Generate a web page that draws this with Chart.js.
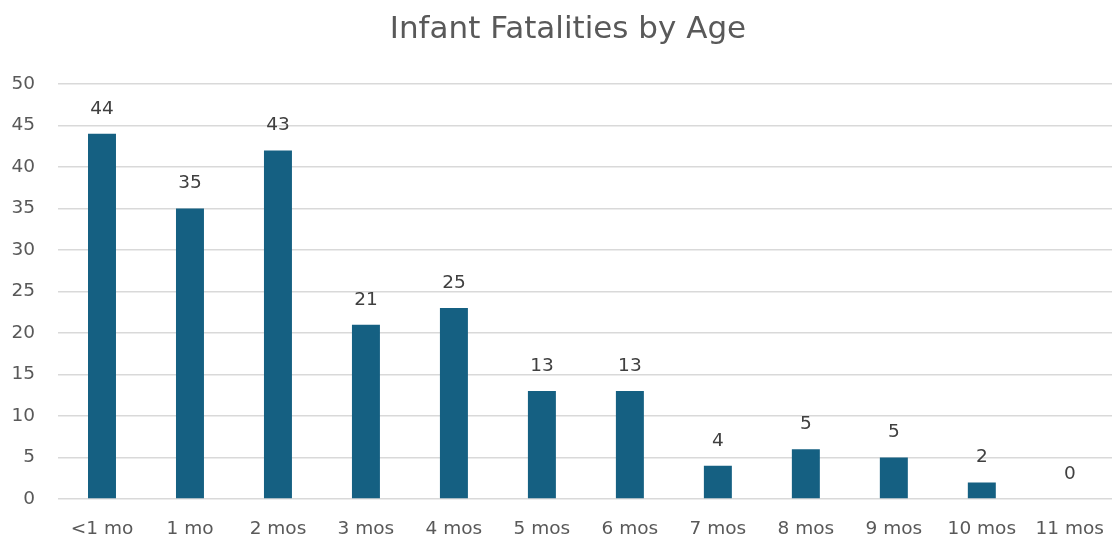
<!DOCTYPE html>
<html>
<head>
<meta charset="utf-8">
<script src="https://cdn.jsdelivr.net/npm/chart.js@4"></script>
<style>
html,body{margin:0;padding:0;background:#fff;overflow:hidden;}
#wrap{width:1112px;height:542px;position:relative;overflow:hidden;}
canvas{display:block;}
</style>
</head>
<body>
<div id="wrap"><canvas id="c" width="1115" height="542"></canvas></div>
<script>
const categories = ["<1 mo","1 mo","2 mos","3 mos","4 mos","5 mos","6 mos","7 mos","8 mos","9 mos","10 mos","11 mos"];
const barValues = [44,35,42,21,23,13,13,4,6,5,2,0];
const labelValues = [44,35,43,21,25,13,13,4,5,5,2,0];
const yTicks = [0,5,10,15,20,25,30,35,40,45,50];
const chartTitle = "Infant Fatalities by Age";

const FONT = "'DejaVu Sans', sans-serif";

const overlay = {
  id: 'overlay',
  afterDatasetsDraw(chart) {
    const ctx = chart.ctx;
    const meta = chart.getDatasetMeta(0);
    ctx.save();
    ctx.fillStyle = '#404040';
    ctx.font = "18.5px " + FONT;
    ctx.textAlign = 'center';
    ctx.textBaseline = 'middle';
    meta.data.forEach((bar, i) => {
      ctx.fillText(String(labelValues[i]), bar.x, bar.y - 25);
    });
    ctx.fillStyle = '#595959';
    ctx.font = "31px " + FONT;
    ctx.fillText(chartTitle, 568, 30);
    ctx.restore();
  }
};

new Chart(document.getElementById('c'), {
  type: 'bar',
  data: {
    labels: categories,
    datasets: [{
      data: barValues,
      backgroundColor: '#156082',
      borderWidth: 0,
      barPercentage: 0.636,
      categoryPercentage: 0.5
    }]
  },
  options: {
    responsive: false,
    animation: false,
    layout: { padding: { top: 84, right: 0, left: 0, bottom: 0 } },
    plugins: { legend: { display: false }, title: { display: false }, tooltip: { enabled: false } },
    scales: {
      x: {
        grid: { display: false },
        border: { display: false },
        ticks: { color: '#595959', font: { size: 18.5, family: FONT }, padding: 11, maxRotation: 0, autoSkip: false },
        afterFit(s) { s.height = 43; }
      },
      y: {
        min: 0, max: 50,
        afterBuildTicks(s) { s.ticks = yTicks.map(v => ({ value: v })); },
        grid: { color: '#D9D9D9', lineWidth: 1.5, drawTicks: false },
        border: { display: false },
        ticks: { color: '#595959', font: { size: 18.5, family: FONT }, padding: 23 },
        afterFit(s) { s.width = 58; }
      }
    }
  },
  plugins: [overlay]
});
</script>
</body>
</html>
